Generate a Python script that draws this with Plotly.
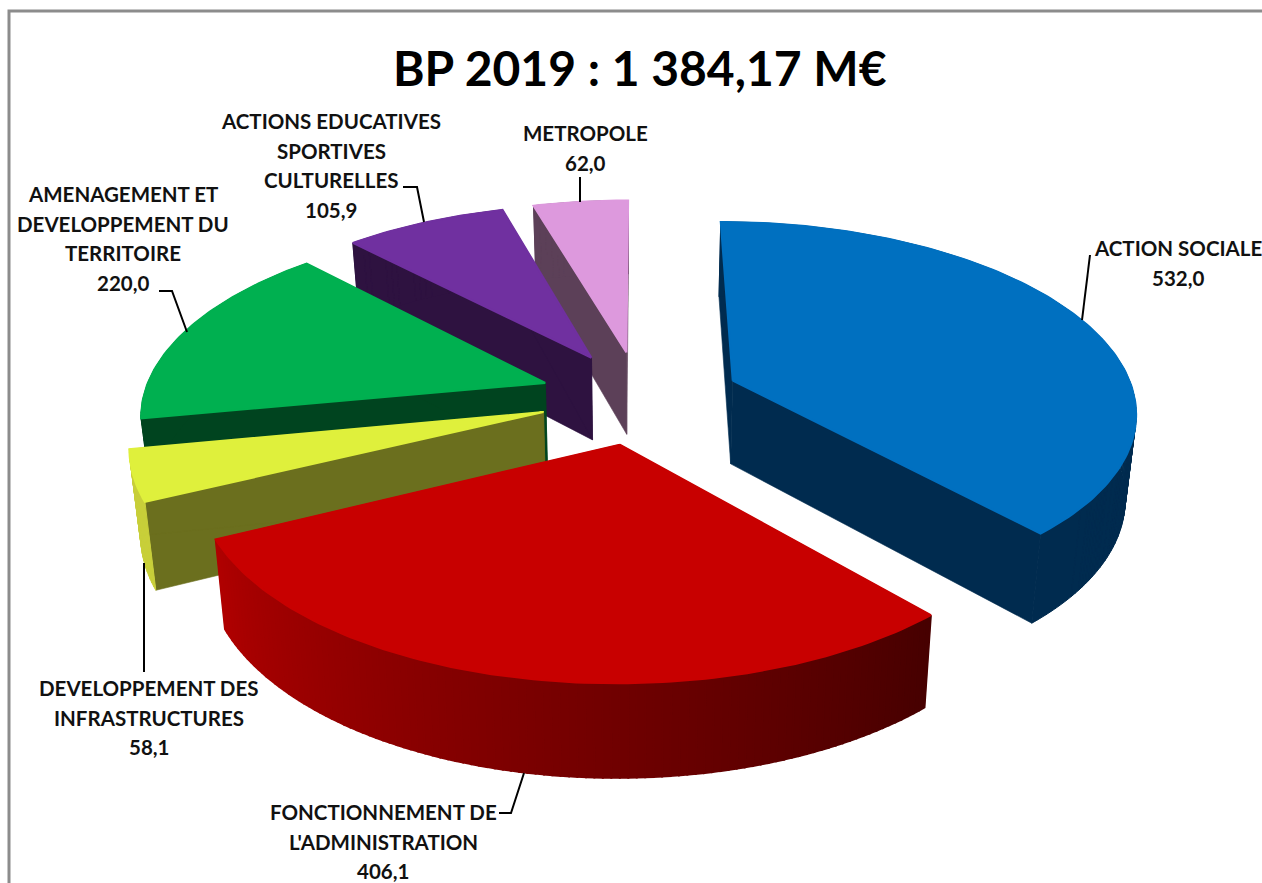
import math
import plotly.graph_objects as go

# ---- data ----
categories = ["ACTION SOCIALE", "FONCTIONNEMENT DE L'ADMINISTRATION", "DEVELOPPEMENT DES INFRASTRUCTURES",
              "AMENAGEMENT ET DEVELOPPEMENT DU TERRITOIRE", "ACTIONS EDUCATIVES SPORTIVES CULTURELLES", "METROPOLE"]
values = [532.0, 406.1, 58.1, 220.0, 105.9, 62.0]
value_labels = ["532,0", "406,1", "58,1", "220,0", "105,9", "62,0"]
title_text = "BP 2019 : 1 384,17 M€"

top_colors = ["#0070c0", "#c80000", "#dff03c", "#00b050", "#7030a0", "#dd99dd"]
wall_colors = ["#002b4f", "#a80000", "#6b6f1e", "#00441f", "#2e1240", "#5c4058"]
rim_colors = ["#002b4f", None, "#c8cf3a", "#00441f", "#2e1240", "#5c4058"]

# ---- projection of the exploded 3D pie ----
CX, CY, A, B, K, D, EXPLODE = 640.0, 397.0, 402.0, 187.0, 0.15, 84.0, 0.25


def project(X, Y, z):
    s = 1.0 / (1.0 + K * Y)
    shrink = 1.0 - 0.022 * z
    return (CX + A * X * s * shrink, CY - B * Y * s + z * D * (1.0 - 0.1 * Y))


total = sum(values)
angles = [0.0]
for v in values:
    angles.append(angles[-1] + v / total * 2 * math.pi)

traces_by_slice = []


def poly(points, color, width=0.6):
    xs = [p[0] for p in points] + [points[0][0]]
    ys = [p[1] for p in points] + [points[0][1]]
    return go.Scatter(x=xs, y=ys, mode="lines", fill="toself", fillcolor=color,
                      line=dict(color=color, width=width), hoverinfo="skip", showlegend=False)


def multi_poly(quads, color, width=1.0):
    xs, ys = [], []
    for q in quads:
        xs += [p[0] for p in q] + [q[0][0], None]
        ys += [p[1] for p in q] + [q[0][1], None]
    return go.Scatter(x=xs, y=ys, mode="lines", fill="toself", fillcolor=color, connectgaps=False,
                      line=dict(color=color, width=width), hoverinfo="skip", showlegend=False)


def lerp_color(t):
    left, right = (176, 0, 0), (70, 0, 0)
    c = [round(left[i] + (right[i] - left[i]) * t) for i in range(3)]
    return "rgb(%d,%d,%d)" % tuple(c)


for i in range(len(values)):
    a0, a1 = angles[i], angles[i + 1]
    mid = (a0 + a1) / 2
    ex, ey = EXPLODE * math.sin(mid), EXPLODE * math.cos(mid)
    n = max(6, int((a1 - a0) / math.radians(1)))
    th = [a0 + (a1 - a0) * j / n for j in range(n + 1)]
    rim = [(ex + math.sin(t), ey + math.cos(t)) for t in th]
    ap = (ex, ey)
    tr = []
    for edge in (rim[0], rim[-1]):
        tr.append(poly([project(*ap, 0), project(*edge, 0), project(*edge, 1), project(*ap, 1)], wall_colors[i]))
    quads = [[project(*rim[j], 0), project(*rim[j + 1], 0), project(*rim[j + 1], 1), project(*rim[j], 1)]
             for j in range(n)]
    if rim_colors[i] is None:
        for j, q in enumerate(quads):
            # gradient runs from the left end of the rim to the right end
            tr.append(poly(q, lerp_color(1 - (j + 0.5) / n), width=2))
    else:
        tr.append(multi_poly(quads, rim_colors[i]))
    tr.append(poly([project(*ap, 0)] + [project(*p, 0) for p in rim], top_colors[i], width=2))
    traces_by_slice.append(tr)

fig = go.Figure()
# painter's order: back slices first
for i in [5, 4, 3, 2, 1, 0]:
    fig.add_traces(traces_by_slice[i])

# ---- labels: each line is its own text so the line pitch can match ----
LABEL_LINES = [
    (1178, 248, ["ACTION SOCIALE", value_labels[0]]),
    (383, 812, ["FONCTIONNEMENT DE", "L'ADMINISTRATION", value_labels[1]]),
    (149, 688, ["DEVELOPPEMENT DES", "INFRASTRUCTURES", value_labels[2]]),
    (123, 194, ["AMENAGEMENT ET", "DEVELOPPEMENT DU", "TERRITOIRE", value_labels[3]]),
    (331, 121, ["ACTIONS EDUCATIVES", "SPORTIVES", "CULTURELLES", value_labels[4]]),
    (585, 133, ["METROPOLE", value_labels[5]]),
]
annotations = [dict(x=640, y=67, text="<b>%s</b>" % title_text, showarrow=False, xref="x", yref="y",
                    font=dict(family="Lato", size=48, color="#000000"), xanchor="center", yanchor="middle")]
for x, y, lines in LABEL_LINES:
    for k, line in enumerate(lines):
        annotations.append(dict(x=x, y=y + k * 29.7, text="<b>%s</b>" % line, showarrow=False, xref="x", yref="y",
                                font=dict(family="Lato", size=20.5, color="#111111"),
                                xanchor="center", yanchor="middle"))

LEADERS = [
    [(1082, 320), (1090, 255)],
    [(499, 813), (511, 813), (524, 773)],
    [(144, 563), (144, 672)],
    [(159, 291), (172, 291), (187, 332)],
    [(403, 187), (417, 187), (424, 222)],
    [(580, 177), (580, 202)],
]
shapes = [dict(type="path", path="M 9 900 L 9 11 L 1300 11", line=dict(color="#8c8c8c", width=3),
               xref="x", yref="y", layer="below")]
for pts in LEADERS:
    path = "M " + " L ".join("%g %g" % p for p in pts)
    shapes.append(dict(type="path", path=path, line=dict(color="#000000", width=2), xref="x", yref="y"))

fig.update_layout(
    width=1262, height=883, margin=dict(l=0, r=0, t=0, b=0),
    paper_bgcolor="white", plot_bgcolor="white", showlegend=False,
    xaxis=dict(range=[0, 1262], visible=False, fixedrange=True),
    yaxis=dict(range=[883, 0], visible=False, fixedrange=True),
    annotations=annotations, shapes=shapes,
)
fig.write_html("out.html", post_script="document.body.style.margin='0';", config={"displayModeBar": False})
